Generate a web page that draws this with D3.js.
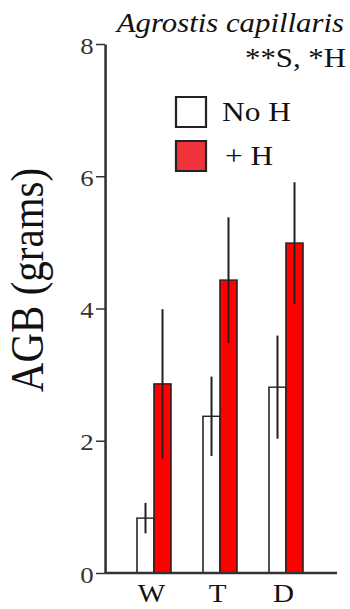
<!DOCTYPE html>
<html>
<head>
<meta charset="utf-8">
<script src="https://cdn.jsdelivr.net/npm/d3@7"></script>
<style>
  body { margin: 0; background: #fff; }
</style>
</head>
<body>
<div id="chart"></div>
<script>
// data
var sites = ["W", "T", "D"];
var treatments = ["No H", "+ H"];
var noH = [0.83, 2.37, 2.81];
var noHErr = [0.23, 0.6, 0.78];
var plusH = [2.86, 4.43, 4.99];
var plusHErr = [1.13, 0.95, 0.92];
var yTicks = [0, 2, 4, 6, 8];

var data = [];
sites.forEach(function(s, i) {
    data.push({ site: s, trt: "No H", value: noH[i], err: noHErr[i] });
    data.push({ site: s, trt: "+ H", value: plusH[i], err: plusHErr[i] });
});

var width = 350, height = 609;
var serif = '"Liberation Serif", "Times New Roman", serif';
// the original figure is slightly stretched horizontally
var sx = 1.12;

var svg = d3.select("#chart")
    .append("svg")
    .attr("width", width)
    .attr("height", height)
    .append("g")
    .attr("transform", "scale(" + sx + ",1)")
    .attr("font-family", serif);

// scales (x positions in unstretched units)
var x = d3.scalePoint()
    .domain(sites)
    .range([154 / sx, 286 / sx]);

var xSub = d3.scaleBand()
    .domain(treatments)
    .range([-17 / sx, 17 / sx]);

var y = d3.scaleLinear()
    .domain([0, 8])
    .range([573, 44]);

var fill = d3.scaleOrdinal()
    .domain(treatments)
    .range(["#ffffff", "#ff0000"]);

var axisX = 105 / sx;

// bars
svg.selectAll(".bar")
    .data(data)
    .enter()
    .append("rect")
    .attr("class", "bar")
    .attr("x", function(d) { return x(d.site) + xSub(d.trt); })
    .attr("y", function(d) { return y(d.value); })
    .attr("width", xSub.bandwidth())
    .attr("height", function(d) { return y(0) - y(d.value); })
    .style("fill", function(d) { return fill(d.trt); })
    .style("stroke", "#222")
    .style("stroke-width", 1.4);

// error bars
svg.selectAll(".err")
    .data(data)
    .enter()
    .append("line")
    .attr("class", "err")
    .attr("x1", function(d) { return x(d.site) + xSub(d.trt) + xSub.bandwidth() / 2; })
    .attr("x2", function(d) { return x(d.site) + xSub(d.trt) + xSub.bandwidth() / 2; })
    .attr("y1", function(d) { return y(d.value + d.err); })
    .attr("y2", function(d) { return y(d.value - d.err); })
    .style("stroke", "#222")
    .style("stroke-width", 1.8);

// y axis
var yAxis = svg.append("g")
    .attr("transform", "translate(" + axisX + ",0)")
    .call(d3.axisLeft(y).tickValues(yTicks).tickSize(8).tickSizeOuter(0).tickPadding(2));
yAxis.attr("font-family", serif).attr("font-size", 24);
yAxis.select(".domain").style("stroke", "#333").style("stroke-width", 2.3);
yAxis.selectAll(".tick line").style("stroke", "#333").style("stroke-width", 1.5);
yAxis.selectAll(".tick text")
    .attr("dy", "0.38em")
    .style("fill", "#333");

// x baseline
svg.append("line")
    .attr("x1", axisX)
    .attr("x2", 337 / sx)
    .attr("y1", y(0))
    .attr("y2", y(0))
    .style("stroke", "#333")
    .style("stroke-width", 2.5);

// x labels (sit a touch left of the group centre in the original)
var xAxis = svg.append("g")
    .attr("transform", "translate(0," + y(0) + ")")
    .call(d3.axisBottom(x).tickSize(0).tickPadding(11));
xAxis.attr("font-family", serif).attr("font-size", 26);
xAxis.select(".domain").remove();
xAxis.selectAll(".tick text")
    .attr("dx", -3 / sx)
    .attr("dy", "0.71em")
    .style("fill", "#111");

// y axis title
svg.append("text")
    .attr("transform", "translate(" + (43 / sx) + ",280) rotate(-90)")
    .attr("text-anchor", "middle")
    .attr("font-size", 41)
    .style("fill", "#111")
    .text("AGB (grams)");

// title and significance
svg.append("text")
    .attr("x", 344 / sx)
    .attr("y", 32)
    .attr("text-anchor", "end")
    .attr("font-size", 27.5)
    .attr("font-style", "italic")
    .style("fill", "#111")
    .text("Agrostis capillaris");

svg.append("text")
    .attr("x", 346 / sx)
    .attr("y", 67)
    .attr("text-anchor", "end")
    .attr("font-size", 27.5)
    .style("fill", "#111")
    .text("**S, *H");

// legend
var legendFill = ["#ffffff", "#f2323a"];
var legend = svg.selectAll(".legend")
    .data(treatments)
    .enter().append("g")
    .attr("class", "legend")
    .attr("transform", function(d, i) { return "translate(" + (176 / sx) + "," + (97 + i * 44) + ")"; });

legend.append("rect")
    .attr("width", 30 / sx)
    .attr("height", 30)
    .style("fill", function(d, i) { return legendFill[i]; })
    .style("stroke", "#222")
    .style("stroke-width", 2);

legend.append("text")
    .attr("x", function(d, i) { return (i === 0 ? 46 : 49) / sx; })
    .attr("y", 24)
    .attr("font-size", 28)
    .style("fill", "#111")
    .text(function(d) { return d; });
</script>
</body>
</html>
